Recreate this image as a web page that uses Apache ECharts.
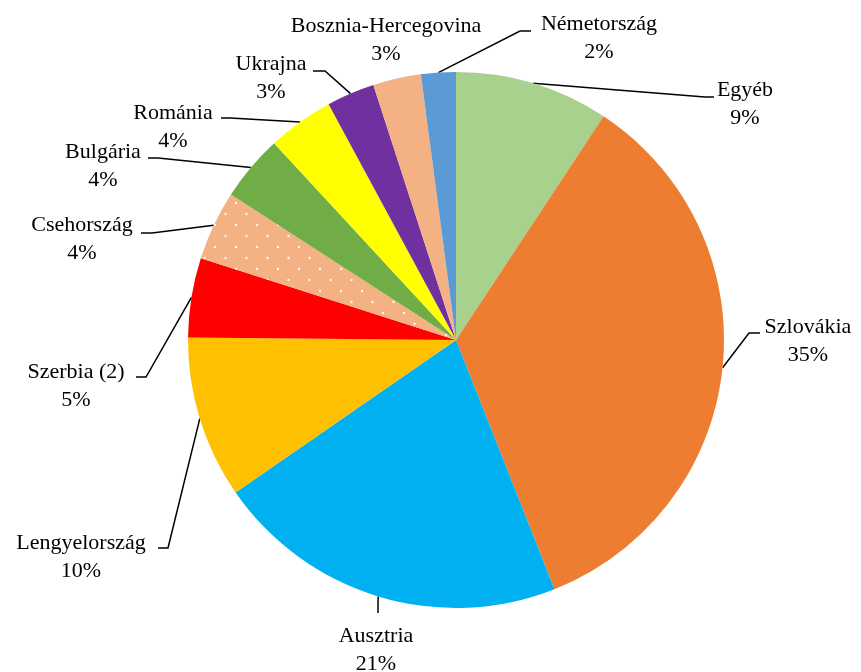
<!DOCTYPE html>
<html>
<head>
<meta charset="utf-8">
<script src="https://cdn.jsdelivr.net/npm/echarts@6/dist/echarts.min.js"></script>
<style>
    html, body { margin: 0; padding: 0; background: #fff; }
    #chart { width: 861px; height: 672px; }
</style>
</head>
<body>
<div id="chart"></div>
<script>
    // countries, clockwise from 12 o'clock
    const categories = ['Egyéb', 'Szlovákia', 'Ausztria', 'Lengyelország', 'Szerbia (2)', 'Csehország',
        'Bulgária', 'Románia', 'Ukrajna', 'Bosznia-Hercegovina', 'Németország'];
    // share (%)
    const shares = [9.3, 34.8, 21.4, 9.8, 4.8, 4.2, 4.0, 4.0, 2.9, 2.9, 2.1];
    const colors = ['#A9D18E', '#ED7D31', '#00B0F0', '#FFC000', '#FF0000', 'dots',
        '#70AD47', '#FFFF00', '#7030A0', '#F4B183', '#5B9BD5'];

    // label block centres and leader line bends (layout only)
    const labelPos = [
        { x: 745, y: 104, line: [[705, 97], [714, 97]] },
        { x: 808, y: 341, line: [[749, 333], [760, 333]] },
        { x: 376, y: 650, line: [[378, 606], [378, 613]] },
        { x: 81, y: 557, line: [[168, 548], [158, 548]] },
        { x: 76, y: 386, line: [[146, 377], [136, 377]] },
        { x: 82, y: 239, line: [[152, 233], [141, 233]] },
        { x: 103, y: 166, line: [[158, 158], [148, 158]] },
        { x: 173, y: 127, line: [[230, 118], [221, 118]] },
        { x: 271, y: 78, line: [[325, 71], [313, 71]] },
        { x: 386, y: 40, line: null },
        { x: 599, y: 38, line: [[520, 31], [531, 31]] }
    ];

    // white dotted fill for Csehország
    function dotPattern() {
        const c = document.createElement('canvas');
        c.width = 21; c.height = 22;
        const ctx = c.getContext('2d');
        ctx.fillStyle = '#F4B183';
        ctx.fillRect(0, 0, 21, 22);
        ctx.fillStyle = 'rgba(255,255,255,0.9)';
        [[5, 5], [15.5, 16]].forEach(function (d) {
            ctx.beginPath();
            ctx.arc(d[0], d[1], 1.2, 0, Math.PI * 2);
            ctx.fill();
        });
        return { image: c, repeat: 'repeat' };
    }

    const data = categories.map(function (name, i) {
        return {
            name: name,
            value: shares[i],
            itemStyle: { color: colors[i] === 'dots' ? dotPattern() : colors[i] },
            labelLine: { show: labelPos[i].line !== null }
        };
    });

    const myChart = echarts.init(document.getElementById('chart'));
    myChart.setOption({
        animation: false,
        series: [{
            type: 'pie',
            center: [456, 340],
            radius: 268,
            startAngle: 90,
            clockwise: true,
            avoidLabelOverlap: false,
            itemStyle: { borderWidth: 0 },
            label: {
                show: true,
                position: 'outside',
                formatter: function (p) {
                    return p.name + '\n' + Math.round(p.percent) + '%';
                },
                color: '#000',
                fontFamily: 'Liberation Serif',
                fontSize: 22,
                lineHeight: 28,
                align: 'center'
            },
            labelLine: {
                show: true,
                lineStyle: { color: '#000', width: 1.5 }
            },
            labelLayout: function (params) {
                const p = labelPos[params.dataIndex];
                const res = { x: p.x, y: p.y, align: 'center', verticalAlign: 'middle' };
                if (p.line && params.labelLinePoints) {
                    res.labelLinePoints = [params.labelLinePoints[0], p.line[0], p.line[1]];
                }
                return res;
            },
            data: data
        }]
    });
</script>
</body>
</html>
